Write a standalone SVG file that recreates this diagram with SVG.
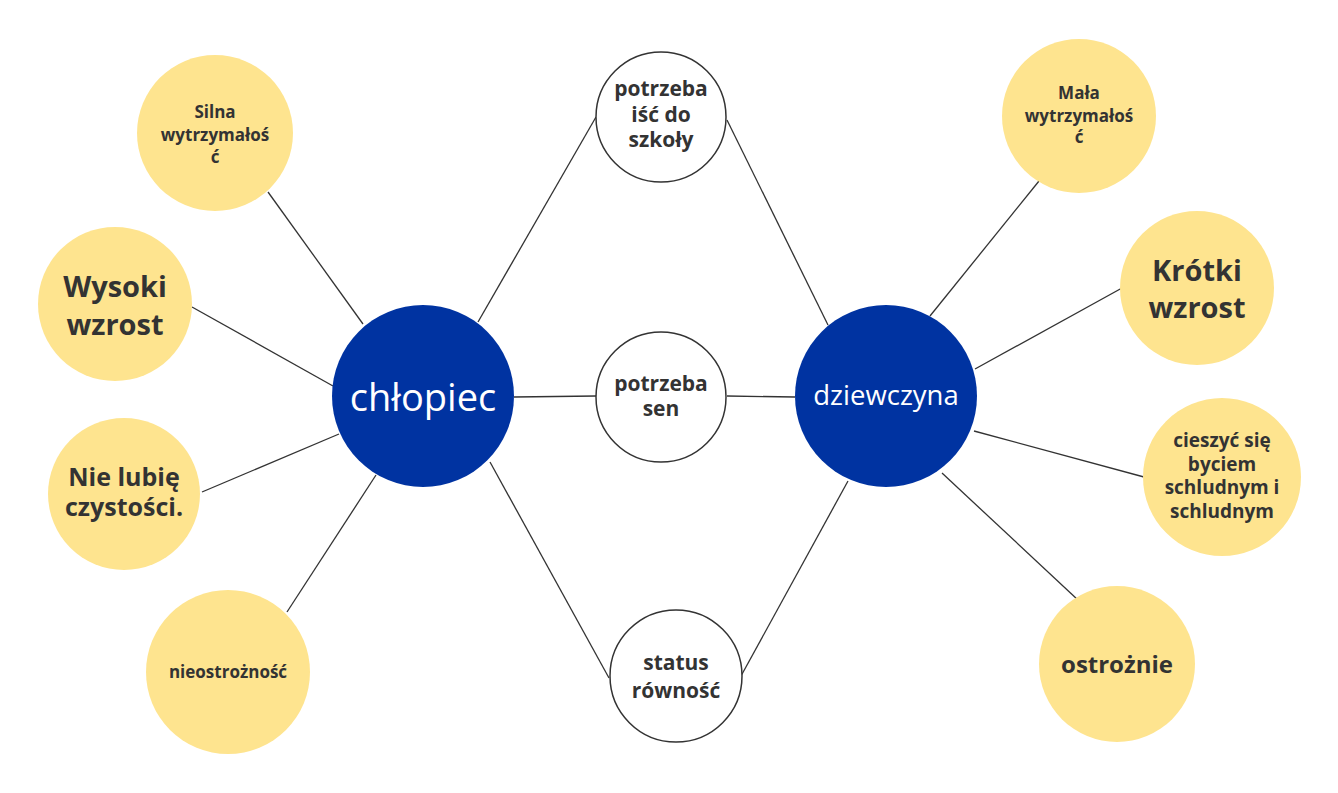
<svg xmlns="http://www.w3.org/2000/svg" width="1338" height="793" viewBox="0 0 1338 793">
<style>
.y{fill:#FEE48F}
.b{fill:#0033A1}
.w{fill:#fff;stroke:#333;stroke-width:1.5}
.t{font-family:"Open Sans","Noto Sans",sans-serif;font-weight:bold;fill:#333;text-anchor:middle}
.m{font-family:"Open Sans","Noto Sans",sans-serif;fill:#fff;text-anchor:middle}
#connectors line{stroke:#333;stroke-width:1.3}
</style>
<rect width="1338" height="793" fill="#fff"/>
<g id="connectors">
<line x1="268" y1="192" x2="363" y2="324"/>
<line x1="192" y1="307" x2="333" y2="386"/>
<line x1="202" y1="492" x2="339" y2="434"/>
<line x1="287" y1="612" x2="376" y2="475"/>
<line x1="478" y1="322" x2="596" y2="117"/>
<line x1="514" y1="397" x2="596" y2="396"/>
<line x1="490" y1="462" x2="609" y2="678"/>
<line x1="727" y1="120" x2="828" y2="325"/>
<line x1="727" y1="396" x2="795" y2="397"/>
<line x1="741" y1="676" x2="848" y2="481"/>
<line x1="930" y1="316" x2="1039" y2="181"/>
<line x1="975" y1="369" x2="1122" y2="288"/>
<line x1="974" y1="431" x2="1144" y2="477"/>
<line x1="942" y1="473" x2="1078" y2="600"/>
</g>
<g id="chlopiec"><circle class="b" cx="423" cy="396" r="91"/><text class="m" x="423" y="411" font-size="38">chłopiec</text></g>
<g id="dziewczyna"><circle class="b" cx="886" cy="396" r="91"/><text class="m" x="886" y="405" font-size="27.5">dziewczyna</text></g>
<g id="silna"><circle class="y" cx="215" cy="133" r="78"/><text class="t" font-size="17"><tspan x="215" y="118">Silna</tspan><tspan x="215" y="141">wytrzymałoś</tspan><tspan x="215" y="163">ć</tspan></text></g>
<g id="wysoki"><circle class="y" cx="115" cy="304" r="77"/><text class="t" font-size="29"><tspan x="115" y="297">Wysoki</tspan><tspan x="115" y="335">wzrost</tspan></text></g>
<g id="nielubie"><circle class="y" cx="124" cy="494" r="76"/><text class="t" font-size="25"><tspan x="124" y="486">Nie lubię</tspan><tspan x="124" y="516">czystości.</tspan></text></g>
<g id="nieostroznosc"><circle class="y" cx="228" cy="672" r="82"/><text class="t" x="228" y="678" font-size="17">nieostrożność</text></g>
<g id="szkola"><circle class="w" cx="661" cy="117" r="65"/><text class="t" font-size="21"><tspan x="661" y="96">potrzeba</tspan><tspan x="661" y="122">iść do</tspan><tspan x="661" y="147">szkoły</tspan></text></g>
<g id="sen"><circle class="w" cx="661" cy="397" r="65"/><text class="t" font-size="21"><tspan x="661" y="391">potrzeba</tspan><tspan x="661" y="416">sen</tspan></text></g>
<g id="status"><circle class="w" cx="676" cy="676" r="66"/><text class="t" font-size="21"><tspan x="676" y="670">status</tspan><tspan x="676" y="698">równość</tspan></text></g>
<g id="mala"><circle class="y" cx="1079" cy="116" r="77"/><text class="t" font-size="17"><tspan x="1079" y="99">Mała</tspan><tspan x="1079" y="122">wytrzymałoś</tspan><tspan x="1079" y="143">ć</tspan></text></g>
<g id="krotki"><circle class="y" cx="1197" cy="288" r="77"/><text class="t" font-size="29"><tspan x="1197" y="281">Krótki</tspan><tspan x="1197" y="318">wzrost</tspan></text></g>
<g id="cieszyc"><circle class="y" cx="1222" cy="477" r="79"/><text class="t" font-size="19"><tspan x="1222" y="447">cieszyć się</tspan><tspan x="1222" y="471">byciem</tspan><tspan x="1222" y="494">schludnym i</tspan><tspan x="1222" y="518">schludnym</tspan></text></g>
<g id="ostroznie"><circle class="y" cx="1117" cy="664" r="78"/><text class="t" x="1117" y="673" font-size="24">ostrożnie</text></g>
</svg>
